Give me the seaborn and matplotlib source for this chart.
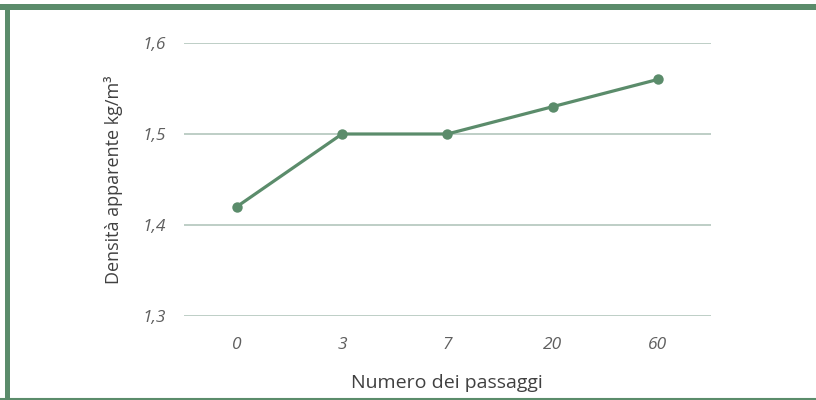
import pandas as pd
import seaborn as sns
import matplotlib.pyplot as plt
from matplotlib.patches import Rectangle
from matplotlib.lines import Line2D
import matplotlib.ticker as ticker

# Dati
passaggi = ['0', '3', '7', '20', '60']
densita = [1.42, 1.50, 1.50, 1.53, 1.56]
y_ticks = [1.3, 1.4, 1.5, 1.6]

df = pd.DataFrame({'passaggi': passaggi, 'densita': densita})

verde = '#5b8c6b'

sns.set_style('white')
plt.rcParams['font.family'] = ['Open Sans', 'DejaVu Sans']

fig = plt.figure(figsize=(8.16, 4.0), dpi=100)
ax = fig.add_axes([184 / 816, 84 / 400, 526.6 / 816, 273 / 400])

sns.lineplot(data=df, x='passaggi', y='densita', color=verde, linewidth=2.3,
             marker='o', markersize=7.5, markeredgewidth=0, ax=ax, zorder=3)

ax.set_xlim(-0.5, 4.5)
ax.set_ylim(1.3, 1.6)
ax.set_yticks(y_ticks)
ax.yaxis.set_major_formatter(ticker.FuncFormatter(lambda v, pos: f'{v:.1f}'.replace('.', ',')))
ax.grid(axis='y', color='#b3c6bc', linewidth=1.2)
ax.grid(axis='x', visible=False)
ax.set_axisbelow(True)
for s in ax.spines.values():
    s.set_visible(False)
ax.tick_params(axis='both', length=0, labelsize=12.5, labelcolor='#5f5f5f')
ax.tick_params(axis='y', pad=13)
ax.tick_params(axis='x', pad=15)
for lab in ax.get_xticklabels() + ax.get_yticklabels():
    lab.set_fontstyle('italic')

ax.set_xlabel('Numero dei passaggi', fontsize=14, color='#404040', labelpad=15)
ax.set_ylabel('Densità apparente kg/m³', fontsize=13, color='#404040', labelpad=14)

# Cornice verde
fig.add_artist(Rectangle((0, 1 - 10 / 400), 1, 6 / 400, transform=fig.transFigure,
                         color=verde, lw=0))
fig.add_artist(Rectangle((5 / 816, 0), 5 / 816, 1 - 5 / 400, transform=fig.transFigure,
                         color=verde, lw=0))
fig.add_artist(Line2D([0, 1], [1.5 / 400, 1.5 / 400], transform=fig.transFigure,
                      color=verde, lw=1.5))

fig.savefig('out.png', dpi=100)
